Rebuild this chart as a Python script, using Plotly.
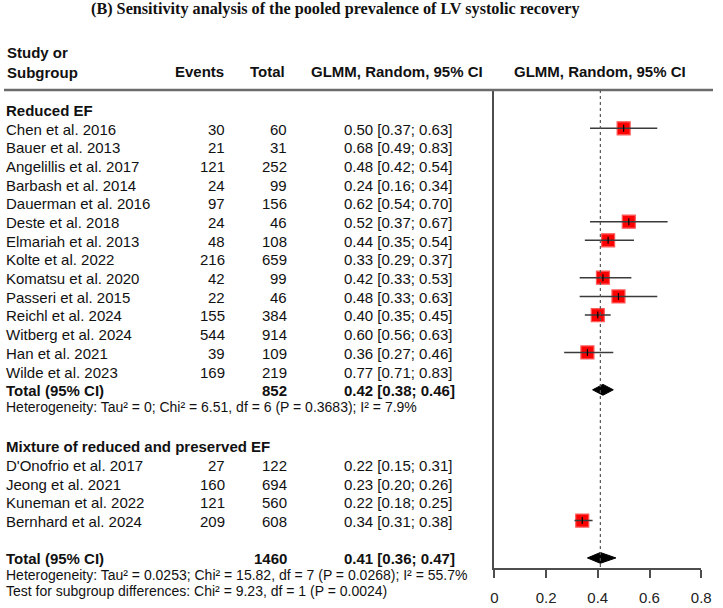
import plotly.graph_objects as go

# ---------------- data ----------------
title = "(B) Sensitivity analysis of the pooled prevalence of LV systolic recovery"

g1_name = "Reduced EF"
g1_studies = ["Chen et al. 2016", "Bauer et al. 2013", "Angelillis et al. 2017", "Barbash et al. 2014",
              "Dauerman et al. 2016", "Deste et al. 2018", "Elmariah et al. 2013", "Kolte et al. 2022",
              "Komatsu et al. 2020", "Passeri et al. 2015", "Reichl et al. 2024", "Witberg et al. 2024",
              "Han et al. 2021", "Wilde et al. 2023"]
g1_events = [30, 21, 121, 24, 97, 24, 48, 216, 42, 22, 155, 544, 39, 169]
g1_total = [60, 31, 252, 99, 156, 46, 108, 659, 99, 46, 384, 914, 109, 219]
g1_est = [0.50, 0.68, 0.48, 0.24, 0.62, 0.52, 0.44, 0.33, 0.42, 0.48, 0.40, 0.60, 0.36, 0.77]
g1_lo = [0.37, 0.49, 0.42, 0.16, 0.54, 0.37, 0.35, 0.29, 0.33, 0.33, 0.35, 0.56, 0.27, 0.71]
g1_hi = [0.63, 0.83, 0.54, 0.34, 0.70, 0.67, 0.54, 0.37, 0.53, 0.63, 0.45, 0.63, 0.46, 0.83]
g1_included = [True, False, False, False, False, True, True, False, True, True, True, False, True, False]
g1_pool_total = 852
g1_pool = [0.42, 0.38, 0.46]
g1_het = "Heterogeneity: Tau\u00b2 = 0; Chi\u00b2 = 6.51, df = 6 (P = 0.3683); I\u00b2 = 7.9%"

g2_name = "Mixture of reduced and preserved EF"
g2_studies = ["D'Onofrio et al. 2017", "Jeong et al. 2021", "Kuneman et al. 2022", "Bernhard et al. 2024"]
g2_events = [27, 160, 121, 209]
g2_total = [122, 694, 560, 608]
g2_est = [0.22, 0.23, 0.22, 0.34]
g2_lo = [0.15, 0.20, 0.18, 0.31]
g2_hi = [0.31, 0.26, 0.25, 0.38]
g2_included = [False, False, False, True]
g2_pool_total = 1460
g2_pool = [0.41, 0.36, 0.47]
g2_het = "Heterogeneity: Tau\u00b2 = 0.0253; Chi\u00b2 = 15.82, df = 7 (P = 0.0268); I\u00b2 = 55.7%"
subgroup_test = "Test for subgroup differences: Chi\u00b2 = 9.23, df = 1 (P = 0.0024)"

ref_line = 0.41
x_ticks = [0, 0.2, 0.4, 0.6, 0.8]
x_ticklabels = ["0", "0.2", "0.4", "0.6", "0.8"]

col_headers = ["Study or<br>Subgroup", "Events", "Total", "GLMM, Random, 95% CI", "GLMM, Random, 95% CI"]

# ---------------- layout helpers ----------------
W, H = 723, 608
FONT = "Liberation Sans, Arial, sans-serif"
TXT = "#111111"


def px(x):
    return x / W


def py(y):
    return 1 - y / H


def fmt(e, l, h):
    return f"{e:.2f} [{l:.2f}; {h:.2f}]"


rows = []
rows.append(("header", g1_name))
for i in range(len(g1_studies)):
    rows.append(("study", (g1_studies[i], g1_events[i], g1_total[i], g1_est[i], g1_lo[i], g1_hi[i], g1_included[i])))
rows.append(("total", (g1_pool_total, g1_pool)))
rows.append(("het", g1_het))
rows.append(("blank", None))
rows.append(("header", g2_name))
for i in range(len(g2_studies)):
    rows.append(("study", (g2_studies[i], g2_events[i], g2_total[i], g2_est[i], g2_lo[i], g2_hi[i], g2_included[i])))
rows.append(("blank", None))
rows.append(("total", (g2_pool_total, g2_pool)))
rows.append(("het", g2_het))
rows.append(("het", subgroup_test))

ROW_H = 18.68
ROW0_TXT = 110.5      # pixel centre of text in row 0
ROW0_MK = 109.6       # pixel centre of marks in row 0
TOP = 90.0
BOT = 568.3
y_top = (TOP - ROW0_MK) / ROW_H
y_bot = (BOT - ROW0_MK) / ROW_H

X_NAME, X_EV, X_TOT, X_EST = 2.5, 225.5, 288.5, 346.5

annotations = []


def add_text(text, x, ypix, anchor="left", bold=False, size=15):
    annotations.append(dict(
        text=f"<b>{text}</b>" if bold else text,
        x=px(x), xref="paper", y=py(ypix), yref="paper",
        xanchor=anchor, yanchor="middle", showarrow=False, borderpad=0, borderwidth=0,
        font=dict(family=FONT, size=size, color=TXT)))


sq_x, sq_y = [], []
ci_x, ci_y = [], []
diamonds = []

last_total_pix = None
het_count = 0
for r, (kind, p) in enumerate(rows):
    ypix = ROW0_TXT + r * ROW_H
    if kind == "header":
        add_text(p, X_NAME, ypix, bold=True)
    elif kind == "study":
        name, ev, tot, e, l, h, inc = p
        add_text(name, X_NAME, ypix)
        add_text(str(ev), X_EV, ypix, anchor="right")
        add_text(str(tot), X_TOT, ypix, anchor="right")
        add_text(fmt(e, l, h), X_EST, ypix)
        if inc:
            sq_x.append(e)
            sq_y.append(r)
            ci_x += [l, h, None]
            ci_y += [r, r, None]
    elif kind == "total":
        tot, (e, l, h) = p
        add_text("Total (95% CI)", X_NAME, ypix, bold=True)
        add_text(str(tot), X_TOT, ypix, anchor="right", bold=True)
        add_text(fmt(e, l, h), X_EST, ypix, bold=True)
        diamonds.append((e, l, h, r))
        last_total_pix = ypix
        het_count = 0
    elif kind == "het":
        hp = last_total_pix + 16.5 + 15.8 * het_count
        het_count += 1
        add_text(p, X_NAME, hp, size=14)

# column headers
annotations.append(dict(text="<b>Study or<br>Subgroup</b>", x=px(2.5), xref="paper", y=py(62.3), yref="paper",
                        xanchor="left", yanchor="middle", showarrow=False, align="left", borderpad=0,
                        font=dict(family=FONT, size=15, color=TXT)))
for txt, x, anc in [(col_headers[1], 225.5, "right"), (col_headers[2], 287.5, "right"),
                    (col_headers[3], 312.5, "left"), (col_headers[4], 519.5, "left")]:
    annotations.append(dict(text=f"<b>{txt}</b>", x=px(x), xref="paper", y=py(71.8), yref="paper",
                            xanchor=anc, yanchor="middle", showarrow=False, borderpad=0,
                            font=dict(family=FONT, size=15, color=TXT)))
# title
annotations.append(dict(text=f"<b>{title}</b>", x=px(338), xref="paper", y=py(9), yref="paper",
                        xanchor="center", yanchor="middle", showarrow=False,
                        font=dict(family="Liberation Serif, Times New Roman, serif", size=16.2, color="#111111")))

fig = go.Figure()

for (e, l, h, r) in diamonds:
    dh = 0.29
    fig.add_trace(go.Scatter(x=[l, e, h, e, l], y=[r, r - dh, r, r + dh, r], mode="lines",
                             fill="toself", fillcolor="black", line=dict(color="black", width=1),
                             hoverinfo="skip", showlegend=False))

fig.add_trace(go.Scatter(x=sq_x, y=sq_y, mode="markers",
                         marker=dict(symbol="square", size=13, color="#ff0000",
                                     line=dict(color="#ff5a5a", width=1.2)),
                         showlegend=False, hoverinfo="skip"))
fig.add_trace(go.Scatter(x=ci_x, y=ci_y, mode="lines", line=dict(color="#3a3a3a", width=1.5),
                         showlegend=False, hoverinfo="skip"))
fig.add_trace(go.Scatter(x=sq_x, y=sq_y, mode="markers",
                         marker=dict(symbol="line-ns", size=5, line=dict(color="black", width=1.2)),
                         showlegend=False, hoverinfo="skip"))

shapes = [
    dict(type="line", xref="paper", yref="paper", x0=0, x1=1, y0=py(90), y1=py(90),
         line=dict(color="#6b6b6b", width=2.5)),
    dict(type="line", xref="x", yref="y", x0=ref_line, x1=ref_line, y0=y_top, y1=y_bot,
         line=dict(color="#555555", width=1.2, dash="dot")),
]

fig.update_layout(
    width=W, height=H, margin=dict(l=0, r=0, t=0, b=0, pad=0),
    paper_bgcolor="white", plot_bgcolor="white",
    annotations=annotations, shapes=shapes,
    xaxis=dict(domain=[px(500), px(711)], range=[0, 0.8], tickvals=x_ticks, ticktext=x_ticklabels,
               showgrid=False, zeroline=False, showline=True, linecolor="#4d4d4d", linewidth=2,
               ticks="outside", ticklen=8, tickwidth=2, tickcolor="#4d4d4d",
               tickfont=dict(family=FONT, size=15, color="#222222"), ticklabelstandoff=7,
               fixedrange=True),
    yaxis=dict(domain=[py(BOT), py(TOP)], range=[y_bot, y_top], showgrid=False, zeroline=False,
               showline=True, linecolor="#4d4d4d", linewidth=2, showticklabels=False, ticks="",
               fixedrange=True),
)

fig.write_html("out.html")
